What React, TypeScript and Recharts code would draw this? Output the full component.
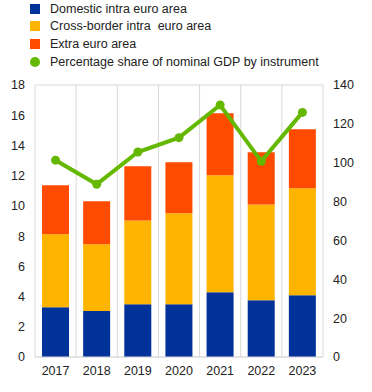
import React from "react";
import {
  ComposedChart,
  Bar,
  Line,
  XAxis,
  YAxis,
  CartesianGrid,
} from "recharts";

const years = ["2017", "2018", "2019", "2020", "2021", "2022", "2023"];
const domestic = [3.29, 3.04, 3.49, 3.49, 4.28, 3.75, 4.08];
const crossBorder = [4.83, 4.42, 5.55, 6.02, 7.74, 6.35, 7.08];
const extra = [3.24, 2.84, 3.58, 3.37, 4.11, 3.45, 3.91];
const gdpShare = [101.3, 88.9, 105.5, 112.9, 129.7, 100.7, 125.9];

const leftTicks = [0, 2, 4, 6, 8, 10, 12, 14, 16, 18];
const rightTicks = [0, 20, 40, 60, 80, 100, 120, 140];

const COLORS = {
  domestic: "#003299",
  cross: "#ffb400",
  extra: "#ff4b00",
  line: "#65b800",
};

const legendItems = [
  { label: "Domestic intra euro area", color: COLORS.domestic, shape: "square" },
  { label: "Cross-border intra  euro area", color: COLORS.cross, shape: "square" },
  { label: "Extra euro area", color: COLORS.extra, shape: "square" },
  { label: "Percentage share of nominal GDP by instrument", color: COLORS.line, shape: "circle" },
];

const data = years.map((year, i) => ({
  year,
  domestic: domestic[i],
  cross: crossBorder[i],
  extra: extra[i],
  share: gdpShare[i],
}));

const FONT = "Arial, 'Liberation Sans', sans-serif";
const tickStyle = { fontSize: 12.5, fill: "#222", fontFamily: FONT };

const App = () => {
  return (
    <div style={{ position: "absolute", left: 0, top: 0, width: 372, height: 392, fontFamily: FONT }}>
      <div style={{ position: "absolute", left: 30, top: 0 }}>
        {legendItems.map((item) => (
          <div
            key={item.label}
            style={{ display: "flex", alignItems: "center", height: 17.6, fontSize: 12.5, color: "#222", whiteSpace: "pre" }}
          >
            <span
              style={{
                width: 10,
                height: 10,
                background: item.color,
                borderRadius: item.shape === "circle" ? "50%" : 0,
                marginRight: 10,
                display: "inline-block",
              }}
            />
            {item.label}
          </div>
        ))}
      </div>
      <ComposedChart
        width={372}
        height={392}
        data={data}
        margin={{ top: 85, right: 0, left: 0, bottom: 0 }}
      >
        <CartesianGrid
          stroke="#d9d9d9"
          verticalCoordinatesGenerator={({ offset }: any) =>
            years.map((_, i) => offset.left + (i * offset.width) / years.length).concat(offset.left + offset.width)
          }
        />
        <XAxis
          dataKey="year"
          height={35}
          axisLine={{ stroke: "#d9d9d9" }}
          tickLine={false}
          tickSize={0}
          tickMargin={9}
          tick={tickStyle}
        />
        <YAxis
          yAxisId="left"
          width={35}
          domain={[0, 18]}
          ticks={leftTicks}
          axisLine={false}
          tickLine={false}
          tickSize={0}
          tickMargin={10}
          tick={tickStyle}
        />
        <YAxis
          yAxisId="right"
          orientation="right"
          width={49}
          domain={[0, 140]}
          ticks={rightTicks}
          axisLine={false}
          tickLine={false}
          tickSize={0}
          tickMargin={10}
          tick={{ ...tickStyle, textAnchor: "start" }}
        />
        <Bar yAxisId="left" dataKey="domestic" stackId="a" fill={COLORS.domestic} barSize={27} isAnimationActive={false} />
        <Bar yAxisId="left" dataKey="cross" stackId="a" fill={COLORS.cross} barSize={27} isAnimationActive={false} />
        <Bar yAxisId="left" dataKey="extra" stackId="a" fill={COLORS.extra} barSize={27} isAnimationActive={false} />
        <Line
          yAxisId="right"
          dataKey="share"
          stroke={COLORS.line}
          strokeWidth={4}
          dot={{ r: 4.5, fill: COLORS.line, stroke: COLORS.line, strokeWidth: 0 }}
          activeDot={false}
          isAnimationActive={false}
        />
      </ComposedChart>
    </div>
  );
};

export default App;
